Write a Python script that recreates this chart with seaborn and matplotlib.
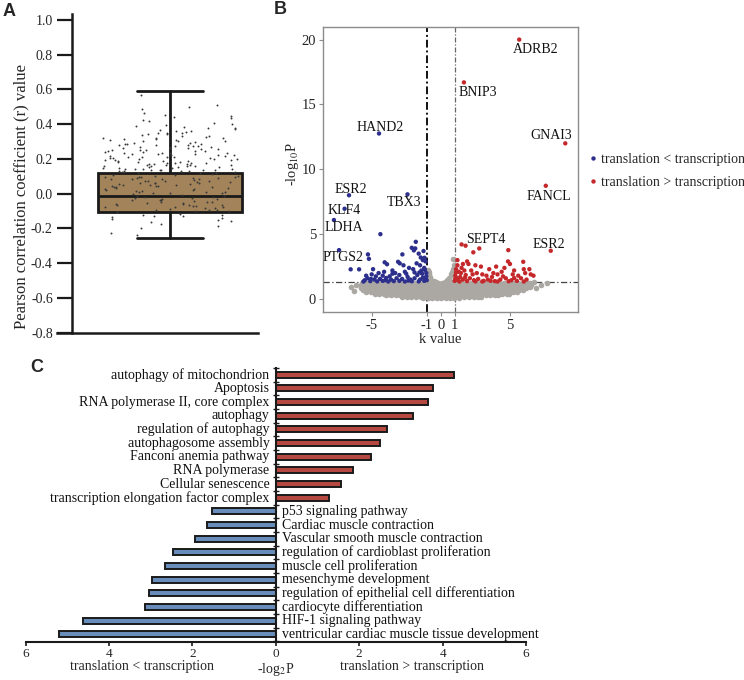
import numpy as np
import pandas as pd
import matplotlib
matplotlib.use("Agg")
import matplotlib.pyplot as plt
import matplotlib.transforms as mtransforms
from matplotlib.ticker import FuncFormatter
import seaborn as sns

# ------------------------------------------------------------------ data A
r_values = [
    0.212, 0.347, 0.158, 0.402, 0.276, 0.131, 0.239, 0.511, 0.183, 0.318,
    0.264, 0.145, 0.371, 0.197, 0.288, 0.124, 0.433, 0.226, 0.169, 0.305,
    0.251, 0.137, 0.359, 0.204, 0.571, 0.177, 0.292, 0.148, 0.384, 0.219,
    0.163, 0.331, 0.246, 0.126, 0.418, 0.272, 0.189, 0.342, 0.153, 0.231,
    0.298, 0.141, 0.466, 0.208, 0.257, 0.172, 0.323, 0.135, 0.392, 0.224,
    0.185, 0.281, 0.129, 0.351, 0.242, 0.497, 0.166, 0.312, 0.199, 0.268,
    0.151, 0.376, 0.233, 0.139, 0.286, 0.214, 0.447, 0.174, 0.327, 0.121,
    0.259, 0.194, 0.362, 0.143, 0.302, 0.228, 0.161, 0.409, 0.248, 0.133,
    0.338, 0.179, 0.271, 0.155, 0.488, 0.216, 0.294, 0.127, 0.366, 0.237,
    0.187, 0.315, 0.149, 0.253, 0.426, 0.171, 0.283, 0.206, 0.138, 0.344,
    0.119, 0.232, 0.309, 0.176, 0.263, 0.142, 0.356, 0.201, 0.289, 0.157,
    0.221, 0.334, 0.168, 0.244, 0.128, 0.397, 0.192, 0.275, 0.146, 0.313,
    0.236, 0.181, 0.441, 0.209, 0.266, 0.134, 0.301, 0.222, 0.159, 0.379,
    0.254, 0.196, 0.321, 0.165, 0.278, 0.122, 0.348, 0.211, 0.187, 0.455,
    0.082, -0.031, 0.047, -0.078, 0.103, 0.012, -0.056, 0.069, -0.092, 0.031,
    -0.014, 0.094, -0.067, 0.055, 0.006, -0.043, 0.087, -0.099, 0.038, -0.021,
    0.073, -0.084, 0.019, 0.109, -0.049, 0.061, -0.008, 0.098, -0.072, 0.043,
    0.015, -0.061, 0.078, -0.035, 0.091, -0.103, 0.026, 0.064, -0.017, 0.112,
    -0.045, 0.051, -0.088, 0.003, 0.085, -0.026, 0.036, -0.065, 0.071, -0.004,
    0.057, -0.095, 0.022, 0.101, -0.039, 0.067, -0.076, 0.011, 0.089, -0.052,
    0.041, -0.069, 0.096, -0.011, 0.059, -0.083, 0.028, 0.076, -0.047, 0.107,
    -0.024, 0.049, -0.091, 0.017, 0.083, -0.058, 0.034, 0.099, -0.036, 0.063,
    -0.101, 0.009, 0.074, -0.029, 0.044, -0.074, 0.092, 0.002, -0.063, 0.053,
    -0.118, -0.142, -0.127, -0.163, -0.135, -0.188, -0.121, -0.151, -0.228, -0.131,
    -0.147, -0.196, -0.124, -0.172, -0.239, -0.156,
]
box_q1, box_med, box_q3 = -0.105, -0.013, 0.117
box_whislo, box_whishi = -0.253, 0.593
r_ticks = [-0.8, -0.6, -0.4, -0.2, 0.0, 0.2, 0.4, 0.6, 0.8, 1.0]

# ------------------------------------------------------------------ data B
gray_band = {
    0.06: [-1.28, -0.93, -0.61, -0.29, 0.03, 0.34, 0.66, 0.97, 1.31],
    0.17: [-2.82, -2.46, -2.13, -1.77, -1.44, -1.08, -0.74, -0.41, -0.06, 0.29,
           0.63, 0.98, 1.32, 1.67, 2.03, 2.38, 2.71, 2.93],
    0.29: [-3.93, -3.61, -3.27, -2.94, -2.58, -2.26, -1.91, -1.57, -1.23, -0.88,
           -0.55, -0.19, 0.14, 0.48, 0.83, 1.17, 1.52, 1.86, 2.21, 2.55, 2.88,
           3.24, 3.57, 3.92, 4.11],
    0.41: [-4.78, -4.46, -4.12, -3.79, -3.43, -3.11, -2.76, -2.42, -2.09, -1.73,
           -1.39, -1.06, -0.71, -0.37, -0.02, 0.32, 0.67, 1.01, 1.36, 1.70, 2.05,
           2.39, 2.74, 3.08, 3.43, 3.77, 4.12, 4.46, 4.78, 4.95],
    0.54: [-5.38, -5.06, -4.71, -4.38, -4.03, -3.69, -3.36, -3.01, -2.67, -2.33,
           -1.99, -1.64, -1.31, -0.96, -0.62, -0.27, 0.07, 0.42, 0.76, 1.11, 1.45,
           1.79, 2.14, 2.48, 2.83, 3.17, 3.51, 3.86, 4.20, 4.55, 4.89, 5.22, 5.53],
    0.68: [-5.62, -5.29, -4.94, -4.61, -4.27, -3.92, -3.58, -3.24, -2.90, -2.56,
           -2.21, -1.87, -1.53, -1.19, -0.84, -0.50, -0.16, 0.19, 0.53, 0.87, 1.21,
           1.56, 1.90, 2.24, 2.59, 2.93, 3.27, 3.62, 3.96, 4.30, 4.65, 4.99, 5.33,
           5.66, 5.97],
    0.82: [-5.74, -5.41, -5.07, -4.73, -4.38, -4.04, -3.71, -3.36, -3.02, -2.68,
           -2.34, -1.99, -1.65, -1.31, -0.97, -0.62, -0.28, 0.06, 0.41, 0.75, 1.09,
           1.43, 1.78, 2.12, 2.46, 2.81, 3.15, 3.49, 3.84, 4.18, 4.52, 4.87, 5.21,
           5.55, 5.89, 6.18],
    0.96: [-5.79, -5.45, -5.12, -4.77, -4.43, -4.09, -3.75, -3.41, -3.06, -2.72,
           -2.38, -2.04, -1.69, -1.35, -1.01, -0.67, -0.33, 0.01, 0.36, 0.70, 1.04,
           1.38, 1.73, 2.07, 2.41, 2.76, 3.10, 3.44, 3.79, 4.13, 4.47, 4.82, 5.16,
           5.50, 5.85, 6.19, 6.44],
    1.10: [-5.76, -5.43, -5.08, -4.74, -4.40, -4.06, -3.72, -3.38, -3.03, -2.69,
           -2.35, -2.01, -1.66, -1.32, -0.98, -0.64, -0.30, 0.04, 0.39, 0.73, 1.07,
           1.41, 1.76, 2.10, 2.44, 2.79, 3.13, 3.47, 3.82, 4.16, 4.50, 4.85, 5.19,
           5.53, 5.88, 6.22, 6.51],
    1.23: [-5.68, -5.35, -5.01, -4.67, -4.33, -3.98, -3.64, -3.30, -2.96, -2.62,
           -2.27, -1.93, -1.59, -1.25, -0.91, -0.57, -0.22, 0.12, 0.46, 0.80, 1.14,
           1.49, 1.83, 2.17, 2.51, 2.86, 3.20, 3.54, 3.89, 4.23, 4.57, 4.92, 5.26,
           5.60, 5.94, 6.27, 6.45],
}
gray_extra_k = [-0.95, -0.88, -0.79, -0.92, -0.70, -0.60, -0.85, -0.50, -0.35, 0.30,
                0.45, 0.60, 0.72, 0.85, 0.93, 0.88, 0.80, 0.95, 0.66, -6.47, -6.12,
                -6.30, 7.66, 7.25, 6.90, 6.75, -0.15, 0.15, 0.55, -0.45, -0.75]
gray_extra_p = [2.20, 1.95, 1.70, 1.50, 1.45, 1.35, 2.05, 1.40, 1.30, 1.32,
                1.45, 1.60, 1.90, 2.30, 2.60, 3.10, 2.05, 1.80, 1.38, 0.90, 1.05,
                0.60, 1.22, 1.10, 0.85, 1.30, 1.05, 1.10, 1.25, 1.25, 1.55]

blue_k = [-4.37, -1.81, -2.10, -1.85, -1.95, -1.60, -1.18, -2.78, -5.27, -5.20,
          -6.52, -5.91, -4.06, -3.89, -3.09, -2.97, -1.30, -1.10, -1.50, -2.30,
          -3.50, -4.90, -5.00, -4.50, -4.20, -3.70, -3.30, -2.60, -2.00, -1.40,
          -1.20, -1.05, -5.30, -5.50, -4.80, -4.40, -4.00, -3.60, -3.20, -2.80,
          -2.40, -2.20, -1.90, -1.70, -1.50, -1.30, -1.10, -5.60, -5.10, -4.60,
          -4.20, -3.80, -3.40, -3.00, -2.60, -2.10, -1.60, -1.20, -4.70, -3.00,
          -2.50, -1.35, -1.90, -5.40, -2.70, -1.75, -1.45, -1.25, -3.50, -4.10,
          -1.05, -1.15, -1.02, -2.35, -3.95, -5.05, -1.55]
blue_p = [5.00, 4.41, 3.95, 3.90, 3.75, 3.50, 3.18, 3.44, 3.44, 3.10,
          2.29, 2.29, 2.83, 2.68, 2.87, 2.75, 3.00, 2.90, 2.60, 2.40,
          2.20, 2.30, 1.90, 2.00, 1.80, 1.75, 2.00, 2.10, 2.30, 2.20,
          2.40, 2.00, 1.60, 1.45, 1.50, 1.55, 1.45, 1.50, 1.60, 1.55,
          1.70, 1.50, 1.60, 1.85, 1.50, 1.65, 1.50, 1.35, 1.38, 1.36,
          1.40, 1.35, 1.38, 1.40, 1.35, 1.37, 1.36, 1.40, 1.75, 1.85,
          1.95, 1.95, 2.05, 1.80, 2.60, 2.75, 3.20, 3.70, 1.95, 2.10,
          1.75, 2.25, 1.45, 1.42, 1.62, 1.55, 2.05]

red_k = [1.79, 2.35, 2.78, 4.88, 4.86, 5.00, 5.96, 1.90, 2.00, 6.00,
         6.40, 6.10, 6.50, 6.70, 1.20, 1.10, 1.30, 1.50, 1.70, 2.20,
         2.60, 3.00, 3.30, 3.70, 4.10, 4.40, 4.60, 5.30, 5.60, 5.80,
         4.00, 3.50, 2.90, 1.05, 1.15, 1.25, 1.40, 1.60, 1.80, 2.10,
         2.40, 2.70, 3.10, 3.40, 3.90, 4.30, 4.70, 5.10, 5.50, 6.20,
         6.00, 1.00, 1.35, 1.90, 2.50, 3.00, 3.60, 4.10, 4.90, 5.30,
         2.30, 1.45, 1.10, 1.60, 1.20, 2.50, 3.80, 5.20, 4.50, 1.75, 1.05]
red_p = [4.11, 3.60, 3.90, 3.77, 2.90, 2.70, 2.87, 2.90, 2.70, 2.30,
         2.30, 2.00, 1.90, 1.80, 2.60, 2.30, 2.10, 2.40, 2.20, 2.20,
         2.00, 1.90, 1.80, 1.70, 1.90, 2.10, 2.40, 2.20, 1.80, 1.60,
         2.50, 2.30, 2.50, 1.80, 1.60, 1.45, 1.70, 1.50, 1.85, 1.60,
         1.45, 1.55, 1.40, 1.50, 1.38, 1.50, 1.60, 1.45, 1.40, 1.50,
         1.35, 1.40, 1.35, 1.38, 1.36, 1.35, 1.40, 1.35, 1.37, 1.62,
         1.90, 2.00, 2.05, 2.70, 3.00, 2.60, 2.00, 1.90, 1.75, 1.65, 1.55]

gene_names = ["ADRB2", "BNIP3", "GNAI3", "FANCL", "ESR2", "SEPT4",
              "HAND2", "ESR2", "TBX3", "KLF4", "LDHA", "PTGS2"]
gene_k = [5.67, 1.67, 9.00, 7.59, 7.95, 1.50, -4.47, -6.64, -2.41, -6.96, -7.73, -7.36]
gene_p = [20.0, 16.7, 12.0, 8.73, 3.72, 4.21, 12.76, 8.00, 8.07, 6.96, 6.09, 3.77]
gene_label_k = [6.85, 2.68, 7.97, 7.78, 7.78, 3.24, -4.42, -6.52, -2.68, -6.96, -7.00, -7.07]
gene_label_p = [19.2, 15.9, 12.6, 7.9, 4.2, 4.6, 13.2, 8.45, 7.45, 6.8, 5.5, 3.2]

k_cut = [-1, 1]
p_cut = 1.3
k_ticks = [-5, -1, 0, 1, 5]
p_ticks = [0, 5, 10, 15, 20]
lbl_lt = "translation < transcription"
lbl_gt = "translation > transcription"

# ------------------------------------------------------------------ data C
up_terms = ["autophagy of mitochondrion", "Apoptosis", "RNA polymerase II, core complex",
            "autophagy", "regulation of autophagy", "autophagosome assembly",
            "Fanconi anemia pathway", "RNA polymerase", "Cellular senescence",
            "transcription elongation factor complex"]
up_vals = [4.27, 3.77, 3.64, 3.30, 2.67, 2.49, 2.28, 1.86, 1.56, 1.27]
down_terms = ["p53 signaling pathway", "Cardiac muscle contraction",
              "Vascular smooth muscle contraction", "regulation of cardioblast proliferation",
              "muscle cell proliferation", "mesenchyme development",
              "regulation of epithelial cell differentiation", "cardiocyte differentiation",
              "HIF-1 signaling pathway", "ventricular cardiac muscle tissue development"]
down_vals = [1.53, 1.65, 1.95, 2.46, 2.67, 2.97, 3.04, 3.15, 4.62, 5.21]
c_ticks = [-6, -4, -2, 0, 2, 4, 6]

# ------------------------------------------------------------------ style
sns.set_theme(style="white")
plt.rcParams["font.family"] = ["Liberation Serif", "DejaVu Serif"]
plt.rcParams["axes.unicode_minus"] = False
plt.rcParams["mathtext.fontset"] = "stix"

W, H = 744, 680
fig = plt.figure(figsize=(W / 100, H / 100), dpi=100)
dark = "#1a1a1a"

def fx(px):
    return px / W

def fy(py):
    return 1 - py / H

# ------------------------------------------------------------------ panel A
axA = fig.add_axes([fx(57), fy(332.7), fx(201), (332.7 - 14) / H])
stats = [dict(med=box_med, q1=box_q1, q3=box_q3, whislo=box_whislo,
              whishi=box_whishi, fliers=[])]
axA.bxp(stats, positions=[0], widths=[1.0], capwidths=[0.46], patch_artist=True,
        showfliers=False, zorder=1,
        boxprops=dict(facecolor="#a3845a", edgecolor=dark, linewidth=2.0),
        medianprops=dict(color=dark, linewidth=2.0),
        whiskerprops=dict(color=dark, linewidth=2.0),
        capprops=dict(color=dark, linewidth=2.0))
sns.stripplot(y=r_values, ax=axA, color="#3a3a3a", size=1.4, jitter=0.47,
              linewidth=0, zorder=3)
axA.set_xlim(-0.78, 0.607)
axA.set_ylim(-0.8, 1.0345)
axA.set_yticks(r_ticks)
axA.yaxis.set_major_formatter(FuncFormatter(lambda v, _: f"{v:.1f}"))
axA.set_xticks([])
for s in ["top", "right"]:
    axA.spines[s].set_visible(False)
axA.spines["left"].set_position(("axes", 15 / 201))
axA.spines["left"].set_linewidth(1.8)
axA.spines["bottom"].set_linewidth(1.8)
axA.spines["left"].set_color(dark)
axA.spines["bottom"].set_color(dark)
axA.tick_params(axis="y", length=10.8, width=1.6, color=dark, pad=3,
                labelsize=10, direction="out", left=True)
axA.set_ylabel("Pearson correlation coefficient (r) value", fontsize=12)
axA.yaxis.set_label_coords(-0.135, 0.426)

# ------------------------------------------------------------------ panel B
axB = fig.add_axes([fx(323), fy(312), fx(255), 285 / H])
gray_df = pd.DataFrame({
    "k": [k for p, ks in gray_band.items() for k in ks] + gray_extra_k,
    "p": [p for p, ks in gray_band.items() for k in ks] + gray_extra_p,
})
sns.scatterplot(data=gray_df, x="k", y="p", color="#aba7a2", s=16, linewidth=0,
                ax=axB, legend=False, zorder=2)
sig_df = pd.DataFrame({"k": blue_k + red_k + gene_k, "p": blue_p + red_p + gene_p})
sig_df["group"] = np.where(sig_df["k"] < 0, lbl_lt, lbl_gt)
sns.scatterplot(data=sig_df, x="k", y="p", hue="group", hue_order=[lbl_lt, lbl_gt],
                palette=["#2c2f8c", "#c4282b"], s=10, linewidth=0, ax=axB, zorder=3)
for name, lk, lp in zip(gene_names, gene_label_k, gene_label_p):
    axB.text(lk, lp, name, ha="center", va="center", fontsize=10, color="#111111",
             zorder=4)
axB.axvline(k_cut[0], color="#111111", lw=1.4, ls=(0, (4, 1.5, 1, 1.5)), zorder=1)
axB.axvline(k_cut[1], color="#666666", lw=0.9, ls=(0, (4, 1.5, 1, 1.5)), zorder=1)
axB.axhline(p_cut, color="#444444", lw=0.9, ls=(0, (5, 2, 1, 2)), zorder=1)
axB.set_xlim(-8.52, 9.92)
axB.set_ylim(-1.0, 20.97)
axB.set_xticks(k_ticks)
axB.set_yticks(p_ticks)
for s in axB.spines.values():
    s.set_color("#8c8c8c")
    s.set_linewidth(1.0)
axB.tick_params(axis="both", length=3, width=0.8, color="#8c8c8c", labelsize=10.5,
                direction="out", bottom=True, left=True, pad=2)
axB.set_xlabel("k value", fontsize=10.5)
axB.xaxis.set_label_coords(0.459, -0.075)
axB.set_ylabel(r"-log$_{10}$P", fontsize=10.5)
axB.yaxis.set_label_coords(-0.085, 0.52)
sns.move_legend(axB, "center left", bbox_to_anchor=(1.035, 0.495), frameon=False,
                title=None, fontsize=10, handletextpad=0.1, labelspacing=0.7,
                handlelength=0.9, borderaxespad=0, borderpad=0)

# ------------------------------------------------------------------ panel C
axC = fig.add_axes([fx(25.7), fy(642), fx(500.3), 274 / H])
c_df = pd.DataFrame({
    "term": up_terms + down_terms,
    "value": up_vals + [-v for v in down_vals],
    "dir": ["up"] * len(up_terms) + ["down"] * len(down_terms),
})
sns.barplot(data=c_df, x="value", y="term", hue="dir", order=c_df["term"],
            palette={"up": "#c8372d", "down": "#5b8cc8"}, dodge=False, width=0.44,
            edgecolor=dark, linewidth=1.4, orient="h", legend=False, ax=axC)
for i, (term, val) in enumerate(zip(c_df["term"], c_df["value"])):
    if val > 0:
        axC.annotate(term, xy=(0, i), xytext=(-4.5, 0), textcoords="offset points",
                     ha="right", va="center", fontsize=10, color="#111111")
    else:
        axC.annotate(term, xy=(0, i), xytext=(4.5, 0), textcoords="offset points",
                     ha="left", va="center", fontsize=10, color="#111111")
axC.set_xlim(-6, 6)
axC.set_ylim(19.56, -0.46)
axC.set_xticks(c_ticks)
axC.xaxis.set_major_formatter(FuncFormatter(lambda v, _: f"{abs(v):g}"))
axC.set_yticks(range(len(c_df)))
axC.set_yticks(np.arange(-0.5, len(c_df), 1.0), minor=True)
axC.tick_params(axis="y", which="major", length=0, labelleft=False)
axC.tick_params(axis="y", which="minor", length=4, width=1.0, direction="inout",
                color=dark, left=True)
axC.tick_params(axis="x", length=3, width=1.2, color=dark, labelsize=9.5,
                direction="out", bottom=True, pad=1)
for s in ["top", "right"]:
    axC.spines[s].set_visible(False)
axC.spines["left"].set_position(("data", 0))
axC.spines["left"].set_linewidth(1.5)
axC.spines["bottom"].set_linewidth(1.5)
axC.spines["left"].set_color(dark)
axC.spines["bottom"].set_color(dark)
axC.set_ylabel("")
axC.set_xlabel(r"-log$_2$P", fontsize=10)
axC.xaxis.set_label_coords(0.5, -0.071)
trans = mtransforms.blended_transform_factory(axC.transData, axC.transAxes)
axC.text(-3.2, -0.09, lbl_lt, transform=trans, ha="center", va="center", fontsize=10)
axC.text(3.26, -0.09, lbl_gt, transform=trans, ha="center", va="center", fontsize=10)

# ------------------------------------------------------------------ panel letters
for letter, px, py in [("A", 9, 12), ("B", 280, 10), ("C", 37, 367)]:
    fig.text(fx(px), fy(py), letter, ha="center", va="center", fontsize=13,
             fontweight="bold", family="Liberation Sans")

fig.savefig("out.png", dpi=100)
